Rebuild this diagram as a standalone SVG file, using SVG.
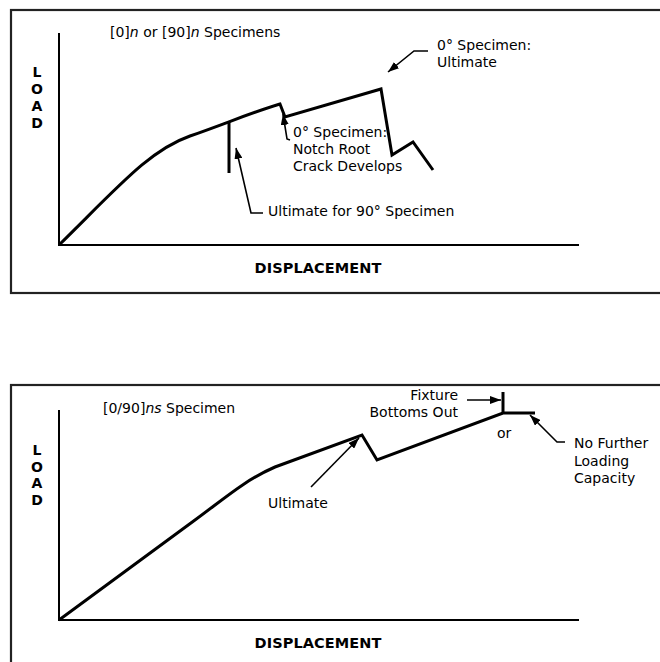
<svg xmlns="http://www.w3.org/2000/svg" width="660" height="662" viewBox="0 0 660 662">
  <style>
    .frame { fill: none; stroke: #222; stroke-width: 2.2; }
    .axis { fill: none; stroke: #000; stroke-width: 2; }
    .curve { fill: none; stroke: #000; stroke-width: 3; stroke-linejoin: miter; stroke-linecap: butt; }
    .lead { fill: none; stroke: #000; stroke-width: 1.6; }
    .t { font-family: "DejaVu Sans", Verdana, sans-serif; font-size: 14px; fill: #000; }
    .b { font-family: "DejaVu Sans", Verdana, sans-serif; font-size: 14.5px; font-weight: bold; fill: #000; }
    .v { font-family: "DejaVu Sans", Verdana, sans-serif; font-size: 14px; font-weight: bold; fill: #000; }
  </style>
  <defs>
    <marker id="ah" markerUnits="userSpaceOnUse" markerWidth="11" markerHeight="8" refX="11" refY="4" orient="auto">
      <path d="M0,0 L11,4 L0,8 z" fill="#000"/>
    </marker>
  </defs>
  <rect width="660" height="662" fill="#fff"/>

  <g id="panel-top">
    <rect class="frame" x="11" y="10" width="670" height="283"/>
    <path class="axis" d="M59,33 L59,245 L579,245"/>
    <g id="load-top" class="v" text-anchor="middle">
      <text x="37" y="77">L</text>
      <text x="37" y="94">O</text>
      <text x="37" y="111">A</text>
      <text x="37" y="128">D</text>
    </g>
    <text class="b" x="318" y="273" text-anchor="middle" textLength="127">DISPLACEMENT</text>
    <text class="t" x="110" y="37">[0]<tspan font-style="italic">n</tspan> or [90]<tspan font-style="italic">n</tspan> Specimens</text>
  </g>

  <g id="curve-top">
    <path class="curve" d="M59,245 C120,185 150,150 190,136 S250,113 280,104 L285,117 L381,89 L392,155 L413,142 L433,170"/>
    <path class="curve" d="M229,122 L229,173"/>
  </g>

  <g id="label-notch">
    <text class="t" x="293" y="137">0° Specimen:</text>
    <text class="t" x="293" y="154">Notch Root</text>
    <text class="t" x="293" y="171">Crack Develops</text>
  </g>
  <g id="label-0-ultimate">
    <text class="t" x="437" y="50">0° Specimen:</text>
    <text class="t" x="437" y="67">Ultimate</text>
  </g>
  <g id="label-90-ultimate">
    <text class="t" x="268" y="216">Ultimate for 90° Specimen</text>
  </g>

  <g id="panel-bottom">
    <rect class="frame" x="11" y="385" width="670" height="300"/>
    <path class="axis" d="M59,410 L59,620 L579,620"/>
    <g id="load-bottom" class="v" text-anchor="middle">
      <text x="37" y="455">L</text>
      <text x="37" y="471.5">O</text>
      <text x="37" y="488">A</text>
      <text x="37" y="504.5">D</text>
    </g>
    <text class="b" x="318" y="648" text-anchor="middle" textLength="127">DISPLACEMENT</text>
    <text class="t" x="103" y="413">[0/90]<tspan font-style="italic">ns</tspan> Specimen</text>
  </g>

  <g id="curve-bottom">
    <path class="curve" d="M59,620 L195,520 C225,498 245,480 275,467 L362,435 L377,460 L503,413 L535,413"/>
    <path class="curve" d="M503,392 L503,413"/>
  </g>

  <g id="label-ultimate">
    <text class="t" x="268" y="508">Ultimate</text>
  </g>
  <g id="label-fixture">
    <text class="t" x="458" y="400" text-anchor="end">Fixture</text>
    <text class="t" x="458" y="417" text-anchor="end">Bottoms Out</text>
  </g>
  <g id="label-or">
    <text class="t" x="497" y="438">or</text>
  </g>
  <g id="label-no-further">
    <text class="t" x="574" y="448">No Further</text>
    <text class="t" x="574" y="466">Loading</text>
    <text class="t" x="574" y="483">Capacity</text>
  </g>

  <g id="connectors">
    <path class="lead" d="M263,213 L251,213 L236,148" marker-end="url(#ah)"/>
    <path class="lead" d="M290,140 L287,139 L283,114" marker-end="url(#ah)"/>
    <path class="lead" d="M428,51 L414,51 L388,72" marker-end="url(#ah)"/>
    <path class="lead" d="M311,487 L359,438" marker-end="url(#ah)"/>
    <path class="lead" d="M467,400 L501,400" marker-end="url(#ah)"/>
    <path class="lead" d="M565,442 L557,442 L530,415" marker-end="url(#ah)"/>
  </g>
</svg>
